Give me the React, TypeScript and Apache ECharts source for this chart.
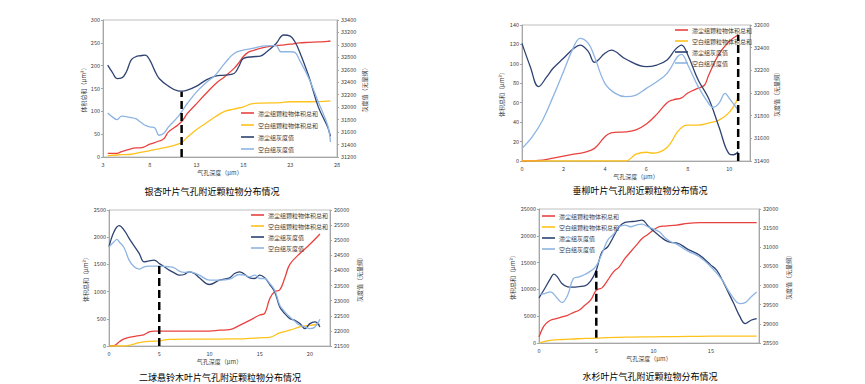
import React, { useEffect, useRef } from "react";
import * as echarts from "echarts";

// ---------- Names ----------
const seriesNames = ["滞尘组颗粒物体积总和", "空白组颗粒物体积总和", "滞尘组灰度值", "空白组灰度值"];
const captions = ["银杏叶片气孔附近颗粒物分布情况", "垂柳叶片气孔附近颗粒物分布情况", "二球悬铃木叶片气孔附近颗粒物分布情况", "水杉叶片气孔附近颗粒物分布情况"];

// ---------- Panel 1: 银杏 ----------
const p1RedX = [3.5, 4.5, 5, 6, 6.5, 7, 8, 9, 9.5, 10, 11, 11.5, 12, 13, 14, 15, 16, 17, 17.5, 18, 18.5, 19, 20, 21, 22, 23, 24, 25, 26, 27, 27.3];
const p1RedY = [8, 8, 12, 18, 20, 20, 28, 35, 40, 55, 70, 80, 95, 117, 139, 160, 176, 194, 206, 220, 229, 233, 239, 243, 245, 247, 250, 251, 252, 253, 254];
const p1YelX = [3.5, 5, 6, 7, 8, 9, 10, 11, 11.5, 12, 13, 14, 15, 16, 17, 18, 19, 20, 22, 23, 25, 27.3];
const p1YelY = [3, 5, 6, 10, 14, 18, 22, 28, 33, 43, 60, 74, 88, 100, 105, 110, 117, 118, 119, 121, 121, 123];
const p1DarkX = [3.5, 4, 4.5, 5, 5.5, 6, 6.5, 7, 7.5, 8, 8.5, 9, 10, 11, 11.5, 12, 13, 14, 15, 16, 17, 17.5, 18, 19, 19.8, 20.5, 21.5, 22.3, 23, 23.5, 24, 25, 26, 27, 27.3];
const p1DarkY = [32676, 32560, 32460, 32470, 32568, 32756, 32810, 32826, 32837, 32756, 32595, 32461, 32338, 32262, 32257, 32273, 32338, 32434, 32499, 32514, 32541, 32649, 32783, 32810, 32820, 32890, 33024, 33159, 33142, 33051, 32890, 32488, 32005, 31683, 31533];
const p1LightX = [3.5, 4, 4.5, 5, 6, 6.5, 7, 7.5, 8, 8.5, 9, 9.5, 10, 11, 11.5, 12, 13, 14, 15, 16, 17, 18, 19, 20, 21, 21.5, 22, 23, 23.5, 24, 25, 26, 27, 27.3];
const p1LightY = [31908, 31844, 31801, 31855, 31833, 31815, 31763, 31710, 31683, 31672, 31549, 31580, 31683, 31844, 31950, 32059, 32246, 32391, 32515, 32703, 32863, 32917, 32944, 32982, 32990, 32990, 32890, 32890, 32880, 32756, 32461, 32085, 31710, 31441];
const p1MarkX = 11.4;
const p1MarkY = [0, 143];

// ---------- Panel 2: 垂柳 ----------
const p2RedX = [0, 1, 1.5, 2, 2.5, 3, 3.5, 4, 4.3, 5, 5.5, 6, 6.5, 7, 7.3, 7.7, 8, 8.5, 8.8, 9, 9.5, 10, 10.43];
const p2RedY = [0, 1, 3, 5, 7, 9, 13, 25, 29, 30, 32, 38, 48, 60, 63, 65, 70, 75, 78, 88, 110, 123, 130];
const p2YelX = [0, 5, 5.5, 6, 6.3, 7, 7.5, 7.8, 8, 8.5, 9, 9.5, 10, 10.43];
const p2YelY = [0, 0, 7, 9, 8, 14, 30, 36, 37, 37, 39, 42, 50, 65];
const p2DarkX = [0, 0.4, 0.8, 1.2, 1.5, 2, 2.5, 2.8, 3.2, 3.5, 4, 4.3, 5, 6, 6.5, 7, 7.4, 7.7, 8, 8.5, 9, 9.5, 10, 10.2, 10.43];
const p2DarkY = [32438, 32232, 32056, 32144, 32218, 32306, 32394, 32423, 32365, 32271, 32350, 32379, 32300, 32232, 32247, 32291, 32385, 32423, 32335, 32115, 31953, 31703, 31462, 31455, 31482];
const p2LightX = [0, 0.5, 1, 1.5, 2, 2.5, 2.8, 3.2, 3.5, 4, 4.5, 5, 5.5, 6, 6.5, 7, 7.5, 7.7, 8, 8.5, 9, 9.2, 9.5, 9.8, 10, 10.43];
const p2LightY = [31512, 31615, 31762, 31968, 32188, 32409, 32482, 32438, 32320, 32085, 31997, 31968, 31982, 32041, 32100, 32173, 32320, 32341, 32247, 32056, 31909, 31873, 31909, 31997, 31953, 31850];
const p2MarkX = 10.43;
const p2MarkY = [0, 130];

// ---------- Panel 3: 二球悬铃木 ----------
const p3RedX = [0, 0.5, 1, 1.5, 2, 3, 3.5, 4, 4.5, 5, 10, 11, 12, 13, 14, 15, 15.5, 16, 16.5, 17, 17.5, 18, 19, 20, 21];
const p3RedY = [0, 5, 74, 130, 160, 190, 210, 260, 275, 275, 275, 290, 300, 380, 470, 570, 600, 870, 1000, 1030, 1250, 1500, 1700, 1870, 2060];
const p3YelX = [0, 1.5, 2, 3, 4, 5, 6, 8, 10, 12, 13, 14, 15, 16, 17, 18, 19, 20, 21];
const p3YelY = [0, 0, 10, 60, 85, 95, 120, 125, 125, 130, 130, 140, 150, 160, 240, 290, 350, 380, 400];
const p3DarkX = [0, 0.5, 1, 1.5, 2, 3, 3.5, 4, 4.5, 5, 5.5, 6, 6.5, 7, 7.5, 8, 8.5, 9, 10, 11, 12, 12.5, 13, 14, 14.5, 15, 15.5, 16, 16.5, 17, 17.5, 18, 18.5, 19, 19.5, 20, 20.5, 21];
const p3DarkY = [24784, 25282, 25481, 25337, 25060, 24563, 24286, 24320, 24342, 24231, 24120, 24010, 23921, 23844, 23866, 23955, 23900, 23756, 23535, 23678, 23756, 23899, 23955, 23756, 23733, 23844, 23756, 23535, 23291, 22794, 22572, 22407, 22352, 22241, 22075, 22241, 22296, 22130];
const p3LightX = [0, 0.5, 0.8, 1, 1.5, 2, 2.5, 3, 3.5, 4, 5, 6, 6.5, 7, 7.5, 8, 9, 10, 11, 12, 13, 13.5, 14, 14.5, 15, 15.5, 16, 16.5, 17, 17.5, 18, 18.5, 19, 19.5, 20, 20.5, 21];
const p3LightY = [24784, 24950, 25027, 24950, 24751, 24342, 24120, 24043, 24120, 24143, 24143, 24120, 24087, 23977, 23933, 23955, 23844, 23678, 23678, 23711, 23866, 23844, 23789, 23844, 23733, 23733, 23568, 23347, 22849, 22628, 22462, 22318, 22186, 22130, 22075, 22130, 22384];
const p3MarkX = 5;
const p3MarkY = [0, 1530];

// ---------- Panel 4: 水杉 ----------
const p4RedX = [0, 0.3, 0.6, 1, 1.5, 2, 2.5, 3, 3.5, 4, 4.5, 5, 5.5, 6, 6.5, 7, 7.5, 8, 8.5, 9, 9.5, 10, 10.5, 11, 12, 13, 14, 15, 16, 17, 18, 19];
const p4RedY = [1122, 2680, 3616, 4240, 4551, 4862, 5174, 5673, 6109, 7044, 7980, 9850, 10286, 11720, 13278, 14213, 15772, 17019, 18266, 19512, 20260, 21071, 21694, 21819, 22006, 22318, 22442, 22442, 22442, 22442, 22442, 22442];
const p4YelX = [0, 0.5, 1, 2, 3, 4, 5, 6, 7, 8, 10, 12, 14, 16, 18, 19];
const p4YelY = [0, 300, 500, 650, 750, 850, 900, 1000, 1050, 1100, 1150, 1200, 1250, 1280, 1300, 1300];
const p4DarkX = [0, 0.5, 1, 1.3, 1.6, 2, 2.5, 3, 3.5, 4, 4.5, 5, 5.5, 6, 6.5, 7, 7.5, 8, 8.5, 9, 9.5, 10, 10.5, 11, 11.5, 12, 13, 14, 15, 15.5, 16, 16.5, 17, 17.5, 18, 18.5, 19];
const p4DarkY = [29678, 29923, 30184, 30298, 30228, 30054, 29966, 29958, 29975, 29992, 30115, 30403, 30883, 31014, 31275, 31537, 31651, 31668, 31686, 31712, 31564, 31424, 31302, 31188, 31127, 31118, 30944, 30795, 30534, 30403, 30141, 29835, 29530, 29207, 29006, 29094, 29137];
const p4LightX = [0, 0.5, 1, 1.5, 2, 2.5, 3, 3.5, 4, 4.5, 5, 5.5, 6, 6.5, 7, 7.5, 8, 8.5, 9, 9.5, 10, 10.5, 11, 11.5, 12, 13, 14, 15, 16, 16.5, 17, 17.5, 18, 18.5, 19];
const p4LightY = [29774, 29792, 29835, 29704, 29556, 29748, 30184, 30228, 30289, 30377, 30516, 30839, 31188, 31337, 31537, 31581, 31537, 31581, 31607, 31537, 31476, 31406, 31249, 31145, 31083, 30900, 30752, 30490, 30141, 29879, 29661, 29530, 29556, 29704, 29835];
const p4MarkX = 5;
const p4MarkY = [1000, 13500];

const COLORS = ["#E8423F", "#FFC21A", "#2E4372", "#8DB4E2"];
const FONT = "Noto Sans CJK SC";

const pair = (xs: number[], ys: number[]) => xs.map((x, i) => [x, ys[i]]);

const panels = [
  {
    grid: { left: 103, top: 20, width: 234, height: 137 },
    x: { min: 3, max: 28, interval: 5, showMax: true },
    yl: { min: 0, max: 300, interval: 50 },
    yr: { min: 31200, max: 33400, interval: 200 },
    lines: [pair(p1RedX, p1RedY), pair(p1YelX, p1YelY), pair(p1DarkX, p1DarkY), pair(p1LightX, p1LightY)],
    mark: [[p1MarkX, p1MarkY[0]], [p1MarkX, p1MarkY[1]]],
    legend: { left: 241, top: 109, gap: 4 },
    leftGap: 15, rightGap: 24,
    caption: [212, 191],
  },
  {
    grid: { left: 522, top: 25, width: 228, height: 136 },
    x: { min: 0, max: 11, interval: 2, showMax: false },
    yl: { min: 0, max: 140, interval: 20 },
    yr: { min: 31400, max: 32600, interval: 200 },
    lines: [pair(p2RedX, p2RedY), pair(p2YelX, p2YelY), pair(p2DarkX, p2DarkY), pair(p2LightX, p2LightY)],
    mark: [[p2MarkX, p2MarkY[0]], [p2MarkX, p2MarkY[1]]],
    legend: { left: 675, top: 26, gap: 3 },
    leftGap: 18, rightGap: 21,
    caption: [640, 190],
  },
  {
    grid: { left: 109, top: 210, width: 221, height: 136 },
    x: { min: 0, max: 22, interval: 5, showMax: false },
    yl: { min: 0, max: 2500, interval: 500 },
    yr: { min: 21500, max: 26000, interval: 500 },
    lines: [pair(p3RedX, p3RedY), pair(p3YelX, p3YelY), pair(p3DarkX, p3DarkY), pair(p3LightX, p3LightY)],
    mark: [[p3MarkX, p3MarkY[0]], [p3MarkX, p3MarkY[1]]],
    legend: { left: 251, top: 211, gap: 3 },
    leftGap: 21, rightGap: 26,
    caption: [220, 377],
  },
  {
    grid: { left: 539, top: 209, width: 220, height: 134 },
    x: { min: 0, max: 19.2, interval: 5, showMax: false },
    yl: { min: 0, max: 25000, interval: 5000 },
    yr: { min: 28500, max: 32000, interval: 500 },
    lines: [pair(p4RedX, p4RedY), pair(p4YelX, p4YelY), pair(p4DarkX, p4DarkY), pair(p4LightX, p4LightY)],
    mark: [[p4MarkX, p4MarkY[0]], [p4MarkX, p4MarkY[1]]],
    legend: { left: 542, top: 212, gap: 3 },
    leftGap: 24, rightGap: 26,
    caption: [650, 376],
  },
];

const fmt = (v: number) => String(v);
const labelStyle = { fontSize: 5.5, color: "#404040", fontFamily: FONT, formatter: fmt };
const nameStyle = { fontSize: 6, color: "#404040", fontFamily: FONT };
const axisLine = { show: true, lineStyle: { color: "#A6A6A6", width: 1 } };

export default function App() {
  const ref = useRef<HTMLDivElement>(null);
  useEffect(() => {
    if (!ref.current) return;
    const chart = echarts.init(ref.current, undefined, { renderer: "svg" });
    const grid: any[] = [];
    const xAxis: any[] = [];
    const yAxis: any[] = [];
    const series: any[] = [];
    const legend: any[] = [];
    const graphic: any[] = [];
    panels.forEach((p, i) => {
      grid.push({ ...p.grid, show: true, borderColor: "#BFBFBF", borderWidth: 1, containLabel: false });
      xAxis.push({
        type: "value", gridIndex: i, min: p.x.min, max: p.x.max, interval: p.x.interval,
        name: "气孔深度（μm）", nameLocation: "middle", nameGap: 12, nameTextStyle: nameStyle,
        axisLine, axisTick: { show: false }, splitLine: { show: false },
        axisLabel: { ...labelStyle, margin: 5, interval: 0, hideOverlap: false, showMaxLabel: p.x.showMax, showMinLabel: true },
      });
      yAxis.push({
        type: "value", gridIndex: i, position: "left", min: p.yl.min, max: p.yl.max, interval: p.yl.interval,
        name: "体积总和（μm²）", nameLocation: "middle", nameRotate: 90, nameGap: p.leftGap, nameTextStyle: nameStyle,
        axisLine, axisTick: { show: true, length: 2, lineStyle: { color: "#A6A6A6" } }, splitLine: { show: false },
        axisLabel: { ...labelStyle, margin: 3 },
      });
      yAxis.push({
        type: "value", gridIndex: i, position: "right", min: p.yr.min, max: p.yr.max, interval: p.yr.interval,
        name: "灰度值（无量纲）", nameLocation: "middle", nameRotate: 90, nameGap: p.rightGap, nameTextStyle: nameStyle,
        axisLine, axisTick: { show: true, length: 2, lineStyle: { color: "#A6A6A6" } }, splitLine: { show: false },
        axisLabel: { ...labelStyle, margin: 4 },
      });
      p.lines.forEach((d, k) => {
        series.push({
          type: "line", name: seriesNames[k], xAxisIndex: i, yAxisIndex: k < 2 ? 2 * i : 2 * i + 1,
          data: d, smooth: 0.4, symbol: "none", color: COLORS[k],
          lineStyle: { color: COLORS[k], width: 1.3 }, z: 3,
        });
      });
      series.push({
        type: "line", name: "mark" + i, xAxisIndex: i, yAxisIndex: 2 * i, data: p.mark, symbol: "none",
        lineStyle: { color: "#000", width: 2.5, type: [8, 4] }, z: 5,
      });
      legend.push({
        orient: "vertical", left: p.legend.left, top: p.legend.top, itemGap: p.legend.gap,
        icon: "rect", itemWidth: 13, itemHeight: 1.6, data: seriesNames, padding: 0,
        textStyle: { fontSize: 6, lineHeight: 8, color: "#404040", fontFamily: FONT, padding: [0, 0, 0, -1] },
      });
      graphic.push({
        type: "text", x: p.caption[0], y: p.caption[1],
        style: { text: captions[i], textAlign: "center", textVerticalAlign: "middle", fontSize: 9, fill: "#000", fontFamily: FONT },
      });
    });
    chart.setOption({
      animation: false,
      backgroundColor: "#fff",
      grid, xAxis, yAxis, series, legend, graphic,
    });
    return () => chart.dispose();
  }, []);
  return <div ref={ref} style={{ position: "fixed", left: 0, top: 0, width: 865, height: 384 }} />;
}
